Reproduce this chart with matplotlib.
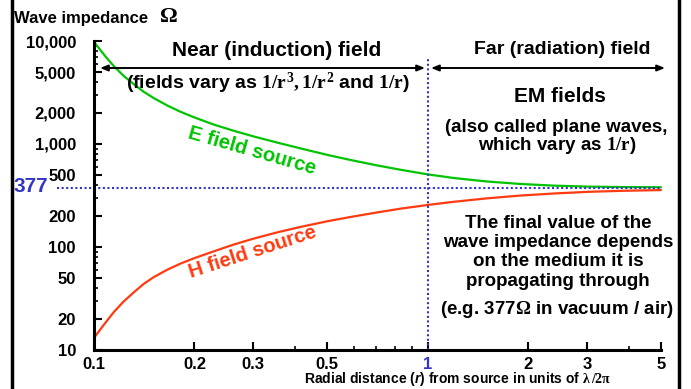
import numpy as np
import matplotlib.pyplot as plt

# Wave impedance vs radial distance
r = [0.1, 0.105, 0.11, 0.115, 0.123, 0.132, 0.141, 0.151, 0.166, 0.182, 0.2, 0.229, 0.263, 0.302,
     0.355, 0.417, 0.501, 0.589, 0.708, 0.832, 1.0, 1.2, 1.51, 1.9, 2.4, 3.0, 3.8, 5.0]
z_e = [9800, 8000, 6650, 5640, 4550, 3780, 3210, 2790, 2360, 2050, 1810, 1540, 1340, 1180,
       1030, 904, 783, 698, 618, 561, 507, 467, 432, 409, 394, 386, 382, 380]
z_h = [13.1, 16.2, 19.7, 23.6, 29.8, 36.6, 43.9, 51.0, 60.3, 69.2, 78.0, 91.0, 106, 121,
       139, 157, 178, 196, 217, 236, 256, 275, 297, 316, 331, 343, 351, 357]

z0 = 377
r_boundary = 1.0

x_ticks = [0.1, 0.2, 0.3, 0.5, 1, 2, 3, 5]
x_ticklabels = ["0.1", "0.2", "0.3", "0.5", "1", "2", "3", "5"]
y_ticks = [10, 20, 50, 100, 200, 500, 1000, 2000, 5000, 10000]
y_ticklabels = ["10", "20", "50", "100", "200", "500", "1,000", "2,000", "5,000", "10,000"]

green = "#00c400"
red = "#ff3a10"
blue = "#3434c8"

plt.rcParams["font.family"] = ["Liberation Sans", "DejaVu Sans"]
plt.rcParams["font.weight"] = "bold"
plt.rcParams["mathtext.fontset"] = "custom"
plt.rcParams["mathtext.rm"] = "Liberation Serif:bold"
plt.rcParams["mathtext.it"] = "Liberation Serif:bold"
plt.rcParams["mathtext.bf"] = "Liberation Serif:bold"
plt.rcParams["mathtext.sf"] = "Liberation Sans:italic:bold"

W, H = 691, 389
fig = plt.figure(figsize=(W / 100, H / 100), dpi=100)


def fp(x, y):
    # pixel position -> figure fraction
    return x / W, 1 - y / H


ax = fig.add_axes([94 / W, 1 - 350 / H, 567 / W, 309 / H])
ax.set_xscale("log")
ax.set_yscale("log")
ax.set_xlim(0.1, 5.0)
ax.set_ylim(10, 10000)

ax.plot(r, z_e, color=green, lw=1.6, solid_capstyle="round", clip_on=False)
ax.plot(r, z_h, color=red, lw=1.6, solid_capstyle="round", clip_on=False)

# reference lines
ax.plot([0.0775, 5.02], [z0, z0], color=blue, lw=1.5, ls=(0, (1, 1.2)), clip_on=False)
ax.axvline(r_boundary, ymax=0.948, color=blue, lw=1.5, ls=(0, (1, 1.2)), clip_on=False)

for s in ["top", "right"]:
    ax.spines[s].set_visible(False)
for s in ["left", "bottom"]:
    ax.spines[s].set_linewidth(2.2)

ax.set_xticks(x_ticks)
ax.set_xticklabels(x_ticklabels)
ax.set_xticks([0.4, 0.6, 0.7, 0.8, 0.9, 4], minor=True)
ax.xaxis.set_minor_formatter(plt.NullFormatter())
ax.set_yticks(y_ticks)
ax.set_yticklabels(y_ticklabels)
ax.set_yticks([30, 40, 60, 70, 80, 90, 300, 400, 600, 700, 800, 900, 3000, 4000, 6000, 7000, 8000, 9000], minor=True)
ax.yaxis.set_minor_formatter(plt.NullFormatter())
ax.tick_params(which="major", direction="in", length=6, width=1.5, labelsize=12, pad=5)
ax.tick_params(which="minor", direction="in", length=3, width=1.2)
ax.tick_params(axis="y", which="major", pad=13)
for lab in ax.get_xticklabels() + ax.get_yticklabels():
    lab.set_fontweight("bold")
ax.get_xticklabels()[4].set_color(blue)

# axis titles
fig.text(*fp(14, 19), "Wave impedance", fontsize=12, ha="left", va="center")
fig.text(*fp(159, 17), r"$\Omega$", fontsize=16, ha="left", va="center")
fig.text(*fp(458, 388.5), r"Radial distance ($\mathsf{r}$) from source in units of $\lambda\,/2\pi$",
         fontsize=10, ha="center", va="bottom")
fig.text(*fp(31, 187), "377", fontsize=15, color=blue, ha="center", va="center")

# region arrows
arrow = dict(arrowstyle="<|-|>,head_length=0.45,head_width=0.18", lw=1.4, color="black",
             shrinkA=0, shrinkB=0)
ax.annotate("", xy=(100 / W, 1 - 68 / H), xytext=(425 / W, 1 - 68 / H),
            xycoords="figure fraction", textcoords="figure fraction", arrowprops=arrow)
ax.annotate("", xy=(431 / W, 1 - 68 / H), xytext=(665 / W, 1 - 68 / H),
            xycoords="figure fraction", textcoords="figure fraction", arrowprops=arrow)

fig.text(*fp(277, 50), "Near (induction) field", fontsize=15, ha="center", va="center")
fig.text(*fp(268, 83), r"(fields vary as $1/r^{3}, 1/r^{2}$ and $1/r$)", fontsize=14,
         ha="center", va="center")
fig.text(*fp(562, 50), "Far (radiation) field", fontsize=14, ha="center", va="center")
fig.text(*fp(560, 97), "EM fields", fontsize=15, ha="center", va="center")
fig.text(*fp(556, 127), "(also called plane waves,", fontsize=13.5, ha="center", va="center")
fig.text(*fp(557, 146), r"which vary as $1/r$)", fontsize=13.5, ha="center", va="center")

final_lines = ["The final value of the", "wave impedance depends", "on the medium it is",
               "propagating through"]
for i, line in enumerate(final_lines):
    fig.text(*fp(558, 224 + i * 19), line, fontsize=13.5, ha="center", va="center")
fig.text(*fp(557, 310), r"(e.g. 377$\Omega$ in vacuum / air)", fontsize=13.5, ha="center", va="center")

fig.text(*fp(252, 151), "E field source", fontsize=14.5, color=green, rotation=-16,
         ha="center", va="center", rotation_mode="anchor")
fig.text(*fp(253, 252), "H field source", fontsize=14.5, color=red, rotation=18,
         ha="center", va="center", rotation_mode="anchor")

# frame side bars
fig.add_artist(plt.Line2D([12 / W, 12 / W], [0, 1], color="black", lw=2.5))
fig.add_artist(plt.Line2D([679 / W, 679 / W], [0, 1], color="black", lw=2.5))

fig.savefig("out.png", dpi=100)
